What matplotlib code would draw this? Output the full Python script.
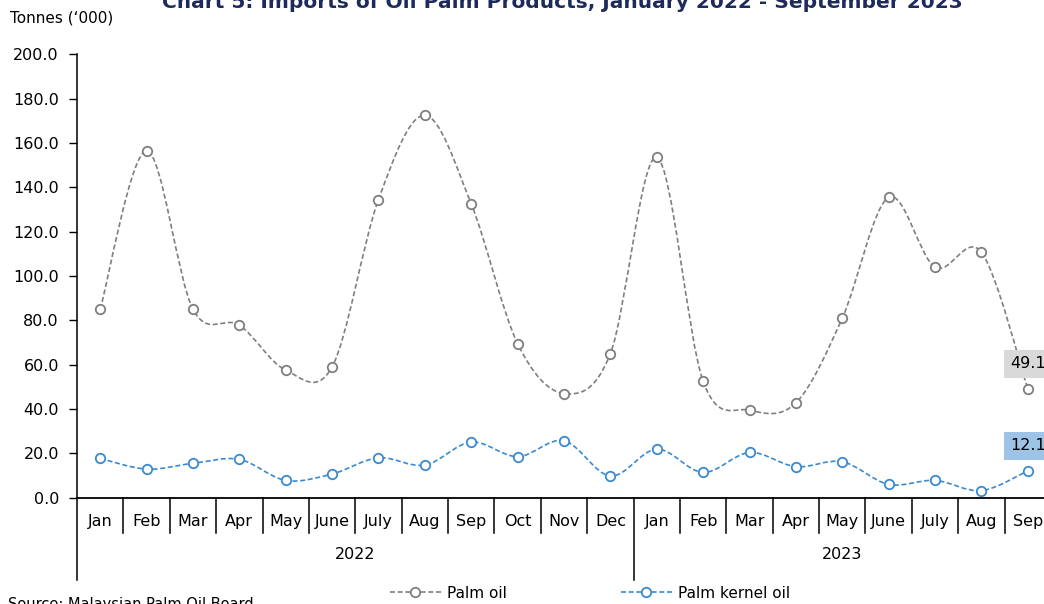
import numpy as np
import matplotlib.pyplot as plt
from matplotlib.path import Path
from matplotlib.patches import PathPatch
from matplotlib.lines import Line2D

months = ["Jan", "Feb", "Mar", "Apr", "May", "June", "July", "Aug", "Sep", "Oct", "Nov", "Dec",
          "Jan", "Feb", "Mar", "Apr", "May", "June", "July", "Aug", "Sep"]
years = ["2022", "2023"]
palm_oil = [85.0, 156.5, 85.0, 77.8, 57.5, 59.0, 134.5, 172.5, 132.5, 69.5, 47.0, 65.0,
            153.5, 52.5, 39.5, 42.8, 81.0, 135.5, 104.0, 110.7, 49.1]
palm_kernel = [17.7, 12.9, 15.5, 17.3, 7.8, 10.7, 18.0, 14.7, 25.1, 18.5, 25.7, 9.8,
               21.9, 11.4, 20.4, 14.0, 16.2, 6.0, 7.8, 3.2, 12.1]
yticks = [0, 20, 40, 60, 80, 100, 120, 140, 160, 180, 200]

plt.rcParams['font.family'] = ['DejaVu Sans']
grey = '#7f7f7f'
blue = '#3a8ad0'


def smooth_path(x, y):
    # excel-ish smoothed line: bezier segments from catmull-rom tangents
    n = len(x)
    verts = [(x[0], y[0])]
    codes = [Path.MOVETO]
    for i in range(n - 1):
        xa, ya = (x[i - 1], y[i - 1]) if i > 0 else (x[i], y[i])
        xb, yb = (x[i + 2], y[i + 2]) if i + 2 < n else (x[i + 1], y[i + 1])
        c1 = (x[i] + (x[i + 1] - xa) / 6, y[i] + (y[i + 1] - ya) / 6)
        c2 = (x[i + 1] - (xb - x[i]) / 6, y[i + 1] - (yb - y[i]) / 6)
        verts += [c1, c2, (x[i + 1], y[i + 1])]
        codes += [Path.CURVE4] * 3
    return Path(verts, codes)


fig = plt.figure(figsize=(10.44, 6.04), dpi=100)
ax = fig.add_axes([77 / 1044, 106.3 / 604, 974 / 1044, 443.4 / 604])

x = np.arange(len(months))
for vals, col in [(palm_oil, grey), (palm_kernel, blue)]:
    ax.add_patch(PathPatch(smooth_path(x, vals), fill=False, edgecolor=col,
                           linestyle=(0, (3, 1.6)), lw=1.2, zorder=2))
    ax.plot(x, vals, 'o', ms=6.8, mfc='white', mec=col, mew=1.3, zorder=3, clip_on=False)

ax.set_xlim(-0.5, len(months) - 0.5)
ax.set_ylim(0, 200)
ax.set_yticks(yticks)
ax.set_yticklabels([f"{v:.1f}" for v in yticks], fontsize=11.5)
ax.tick_params(axis='y', direction='out', length=6, width=1, pad=7)
ax.set_xticks([])
for s in ['top', 'right']:
    ax.spines[s].set_visible(False)
ax.spines['left'].set_linewidth(1.1)
ax.spines['bottom'].set_linewidth(1.3)

# category axis: month labels, separators, years
trans = ax.get_xaxis_transform()
for i, m in enumerate(months):
    ax.text(i, -0.054, m, transform=trans, ha='center', va='center', fontsize=11.5)
for i in range(1, len(months)):
    if i == 12:
        continue
    ax.plot([i - 0.5, i - 0.5], [0, -0.08], transform=trans, color='black', lw=1.1, clip_on=False)
for b in [-0.5, 11.5, 20.5]:
    ax.plot([b, b], [0, -0.185], transform=trans, color='black', lw=1.1, clip_on=False)
ax.text(5.5, -0.129, years[0], transform=trans, ha='center', va='center', fontsize=11.5)
ax.text(16.0, -0.129, years[1], transform=trans, ha='center', va='center', fontsize=11.5)

# data labels for the last month
last = len(months) - 1
ax.annotate(f"{palm_oil[-1]:.1f}", (last, palm_oil[-1]), xytext=(0, 18), textcoords='offset points',
            ha='center', va='center', fontsize=11.5, annotation_clip=False,
            bbox=dict(boxstyle='square,pad=0.4', fc='#d9d9d9', ec='none'))
ax.annotate(f"{palm_kernel[-1]:.1f}", (last, palm_kernel[-1]), xytext=(0, 18), textcoords='offset points',
            ha='center', va='center', fontsize=11.5, annotation_clip=False,
            bbox=dict(boxstyle='square,pad=0.4', fc='#9dc3e6', ec='none'))

fig.text(10 / 1044, 1 - 18 / 604, "Tonnes (\u2018000)", fontsize=11, va='center', ha='left')
fig.text(562 / 1044, 1 - 8 / 604, "Chart 5: Imports of Oil Palm Products, January 2022 - September 2023",
         fontsize=14.5, fontweight='bold', color='#1f2a5c', ha='center', va='baseline')
fig.text(8 / 1044, 0.012, "Source: Malaysian Palm Oil Board", fontsize=10.5, va='top', ha='left')

handles = [Line2D([], [], color=grey, ls=(0, (3, 1.6)), lw=1.2, marker='o', ms=6.8, mfc='white', mew=1.3),
           Line2D([], [], color=blue, ls=(0, (3, 1.6)), lw=1.2, marker='o', ms=6.8, mfc='white', mew=1.3)]
fig.legend(handles, ["Palm oil", "Palm kernel oil"], loc='center', bbox_to_anchor=(590 / 1044, 11 / 604),
           ncol=2, frameon=False, fontsize=11, handlelength=3.3, handletextpad=0.4, columnspacing=7.5,
           markerscale=1)

fig.savefig("out.png", dpi=100)
